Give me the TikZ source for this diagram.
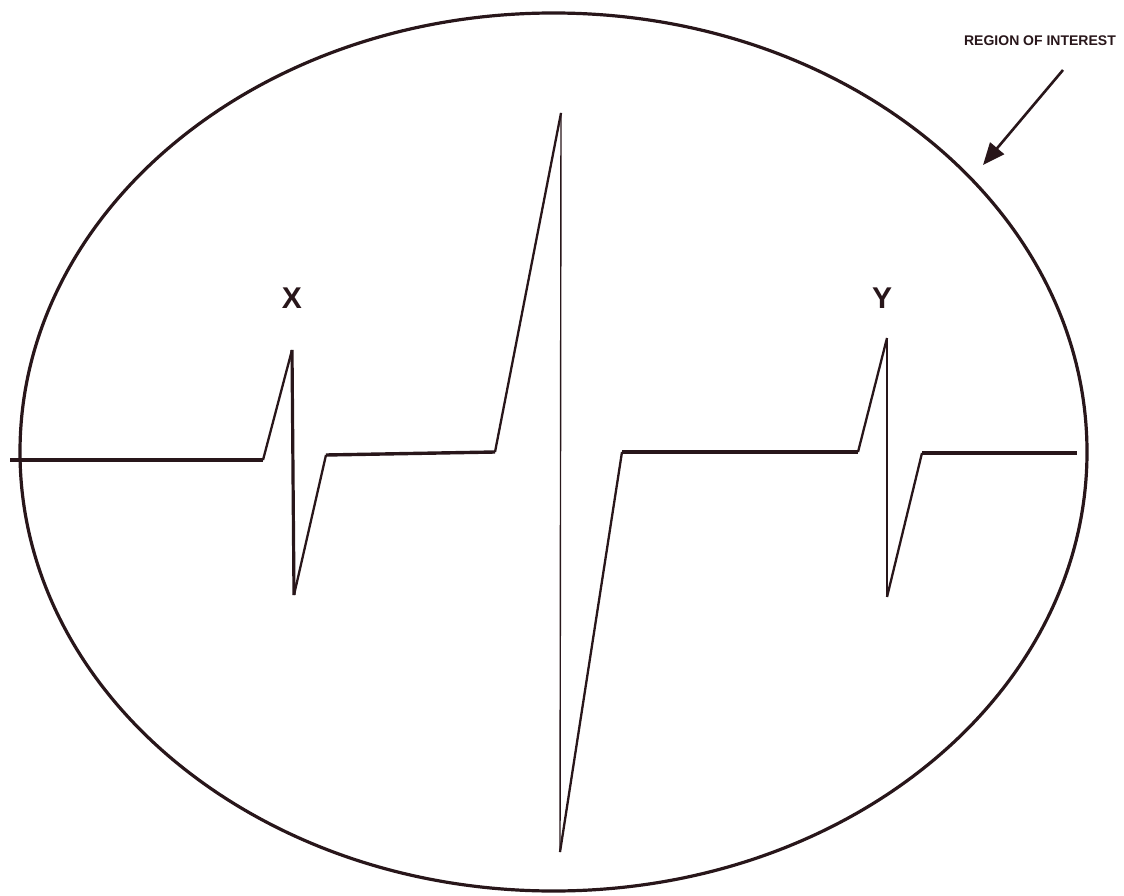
\documentclass[tikz,border=0pt]{standalone}
\usepackage{fontspec}
\setmainfont{Liberation Sans}
\usetikzlibrary{arrows.meta}
\definecolor{ink}{RGB}{40,22,26}
\begin{document}
\begin{tikzpicture}[x=1pt,y=-1pt,
  inkcol/.style={draw=ink},
  baseln/.style={inkcol,line width=3.4pt,line join=miter},
  slope/.style={inkcol,line width=2.3pt},
  vthin/.style={inkcol,line width=1.4pt},
  vthick/.style={inkcol,line width=3.2pt},
  lbl/.style={font=\bfseries\fontsize{30}{30}\selectfont,text=ink,inner sep=0pt},
  roi/.style={font=\bfseries\fontsize{14}{14}\selectfont,text=ink,inner sep=0pt}]
\useasboundingbox (0,0) rectangle (1124,896);
% ellipse
\draw[inkcol,line width=3.2pt] (553.5,452) ellipse [x radius=533.5, y radius=439];
% waveform points
\coordinate (s0) at (10,460);
\coordinate (a1) at (263,460);
\coordinate (a2) at (292,350);
\coordinate (a3) at (294,595);
\coordinate (a4) at (326,455);
\coordinate (b1) at (495,452);
\coordinate (b2) at (561,113);
\coordinate (b3) at (560,852);
\coordinate (b4) at (622,452);
\coordinate (c1) at (858,452);
\coordinate (c2) at (887,338);
\coordinate (c3) at (887,597);
\coordinate (c4) at (922,453);
\coordinate (e0) at (1077,453);
% baseline segments
\draw[baseln] (s0) -- (a1);
\draw[baseln] (a4) -- (b1);
\draw[baseln] (b4) -- (c1);
\draw[baseln] (c4) -- (e0);
% X spike
\draw[slope] (a1) -- (a2);
\draw[vthick] (a2) -- (a3);
\draw[slope] (a3) -- (a4);
% big spike
\draw[slope] (b1) -- (b2);
\draw[vthin] (b2) -- (b3);
\draw[slope] (b3) -- (b4);
% Y spike
\draw[slope] (c1) -- (c2);
\draw[vthin] (c2) -- (c3);
\draw[slope] (c3) -- (c4);
% labels
\node[lbl] (xl) at (292,298) {X};
\node[lbl] (yl) at (882,298) {Y};
\node[roi,anchor=east] (roit) at (1116,41) {REGION OF INTEREST};
\coordinate (arT) at (1063,70);
\coordinate (arH) at (983,165);
\draw[inkcol,line width=2.6pt,-{Triangle[length=22pt,width=18pt]}] (arT) -- (arH);
\end{tikzpicture}
\end{document}
